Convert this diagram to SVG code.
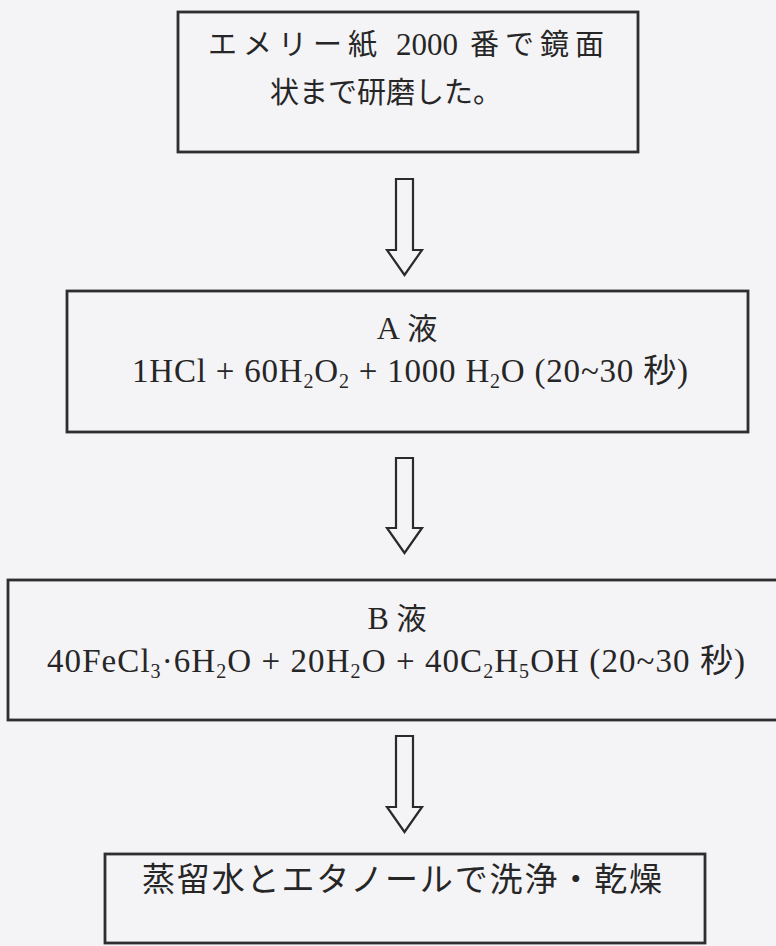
<svg xmlns="http://www.w3.org/2000/svg" width="776" height="946" viewBox="0 0 776 946">
<defs>
<style>
.bg{fill:#f4f3f6}
.box{fill:none;stroke:#2e2e2e;stroke-width:2.8}
.arr{fill:none;stroke:#2a2a2a;stroke-width:2.2;stroke-linejoin:miter}
.t{font-family:"Liberation Serif","Noto Sans CJK JP",serif;fill:#262626}
</style>
</defs>
<rect class="bg" x="0" y="0" width="776" height="946"/>
<g id="node1">
<rect class="box" x="178" y="12" width="460" height="140"/>
<text class="t" y="55" font-size="29"><tspan x="208" letter-spacing="6">エメリー紙</tspan><tspan x="396" font-size="31">2000</tspan><tspan x="470" letter-spacing="6">番で鏡面</tspan></text>
<text class="t" x="270" y="103" font-size="29">状まで研磨した。</text>
</g>
<g id="node2">
<rect class="box" x="67" y="291" width="681" height="141"/>
<text class="t" x="407" y="339" font-size="30" text-anchor="middle"><tspan font-size="32">A</tspan> 液</text>
<text class="t" x="132" y="382" font-size="33" textLength="556" lengthAdjust="spacing">1HCl + 60H<tspan font-size="20" dy="6">2</tspan><tspan dy="-6">O</tspan><tspan font-size="20" dy="6">2</tspan><tspan dy="-6"> + 1000 H</tspan><tspan font-size="20" dy="6">2</tspan><tspan dy="-6">O (20~30 秒)</tspan></text>
</g>
<g id="node3">
<rect class="box" x="8" y="580" width="800" height="140"/>
<text class="t" x="397" y="629" font-size="30" text-anchor="middle"><tspan font-size="32">B</tspan> 液</text>
<text class="t" x="47" y="672" font-size="33" textLength="698" lengthAdjust="spacing">40FeCl<tspan font-size="20" dy="6">3</tspan><tspan dy="-6">·6H</tspan><tspan font-size="20" dy="6">2</tspan><tspan dy="-6">O + 20H</tspan><tspan font-size="20" dy="6">2</tspan><tspan dy="-6">O + 40C</tspan><tspan font-size="20" dy="6">2</tspan><tspan dy="-6">H</tspan><tspan font-size="20" dy="6">5</tspan><tspan dy="-6">OH (20~30 秒)</tspan></text>
</g>
<g id="node4">
<rect class="box" x="105" y="854" width="600" height="89"/>
<text class="t" x="142" y="891" font-size="33" textLength="520" lengthAdjust="spacing">蒸留水とエタノールで洗浄・乾燥</text>
</g>
<g id="connectors">
<polygon class="arr" points="396,179 413,179 413,250 422,250 404.5,275 387,250 396,250"/>
<polygon class="arr" points="396,458 413,458 413,528 422,528 404.5,553 387,528 396,528"/>
<polygon class="arr" points="396,736 413,736 413,807 422,807 404.5,832 387,807 396,807"/>
</g>
</svg>
